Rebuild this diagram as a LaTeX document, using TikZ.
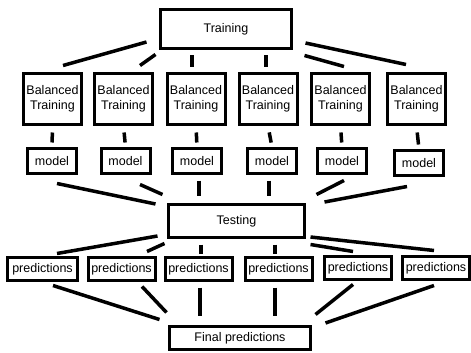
\documentclass[tikz,border=0pt]{standalone}
\usepackage{fontspec}
\setmainfont{Liberation Sans}
\usepackage{tikz}
\usetikzlibrary{calc}
\tikzset{box/.style={draw,line width=3pt,inner sep=0pt,align=center,font=\fontsize{12.5}{15}\selectfont},
	btbox/.style={box,minimum width=58pt,minimum height=51pt},
	modbox/.style={box,minimum width=49pt,minimum height=25pt},
	predbox/.style={box,minimum width=67pt,minimum height=23pt},
	link/.style={line width=3.5pt}}
\begin{document}
\begin{tikzpicture}[x=1pt,y=-1pt]
		\useasboundingbox (0,0) rectangle (471,353);
		\node[box,minimum width=131pt,minimum height=39pt] (train) at (226,29) {Training};
		\node[btbox] (bt1) at (52.5,99) {Balanced\\Training};
		\node[btbox] (bt2) at (123.5,99) {Balanced\\Training};
		\node[btbox] (bt3) at (196,99) {Balanced\\Training};
		\node[btbox] (bt4) at (268,99) {Balanced\\Training};
		\node[btbox] (bt5) at (340.5,99) {Balanced\\Training};
		\node[btbox] (bt6) at (416.5,99) {Balanced\\Training};
		\node[modbox] (mod1) at (52,161) {model};
		\node[modbox] (mod2) at (125.5,161) {model};
		\node[modbox] (mod3) at (197,161) {model};
		\node[modbox] (mod4) at (272,161) {model};
		\node[modbox] (mod5) at (342,161) {model};
		\node[modbox] (mod6) at (419,163) {model};
		\node[box,minimum width=136pt,minimum height=33pt] (test) at (236.5,221) {Testing};
		\node[predbox,minimum width=70pt] (pred1) at (42.5,269) {predictions};
		\node[predbox] (pred2) at (121.5,269) {predictions};
		\node[predbox] (pred3) at (198.5,269) {predictions};
		\node[predbox] (pred4) at (278.5,269) {predictions};
		\node[predbox] (pred5) at (358,268) {predictions};
		\node[predbox] (pred6) at (436,268) {predictions};
		\node[box,minimum width=141pt,minimum height=23pt] (final) at (240,338) {Final predictions};
		% training to balanced training
		\draw[link] ($(train.west)+(-12.5,13)$) -- ($(bt1.north)+(10.5,-6.5)$);
		\draw[link] ($(train.south west)+(-3.5,4.5)$) -- ($(bt2.north)+(16.5,-6.5)$);
		\draw[link] ($(train.south)+(-34,5.5)$) -- ($(bt3.north)+(-4,-4.5)$);
		\draw[link] ($(train.south)+(40,5.5)$) -- ($(bt4.north)+(-2,-4.5)$);
		\draw[link] ($(train.south east)+(11.5,5.5)$) -- ($(bt5.north)+(3.5,-5.5)$);
		\draw[link] ($(train.east)+(12.5,14)$) -- ($(bt6.north)+(-10.5,-7.5)$);
		% balanced training to model
		\foreach \i in {1,...,6}
			\draw[link,shorten <=6.5pt,shorten >=4.5pt] (bt\i.south) -- (mod\i.north);
		% model to testing
		\draw[link] ($(mod1.south)+(5,8.5)$) -- ($(test.west)+(-11.5,-17)$);
		\draw[link] ($(mod2.south)+(14.5,9.5)$) -- ($(test.north west)+(-4.5,-8.5)$);
		\draw[link] ($(mod3.south)+(2,5.5)$) -- ($(test.north)+(-37.5,-7.5)$);
		\draw[link] ($(mod4.south)+(-3,5.5)$) -- ($(test.north)+(32.5,-7.5)$);
		\draw[link] ($(mod5.south)+(2,5.5)$) -- ($(test.north east)+(10.5,-8.5)$);
		\draw[link] ($(mod6.south)+(-12,9.5)$) -- ($(test.east)+(18.5,-19)$);
		% testing to predictions
		\draw[link] ($(test.west)+(-9.5,15)$) -- ($(pred1.north)+(14.5,-2.5)$);
		\draw[link] ($(test.south west)+(-2.5,4.5)$) -- ($(pred2.north)+(25.5,-4.5)$);
		\draw[link] ($(test.south)+(-35.5,5.5)$) -- ($(pred3.north)+(2.5,-2.5)$);
		\draw[link] ($(test.south)+(38.5,5.5)$) -- ($(pred4.north)+(-3.5,-2.5)$);
		\draw[link] ($(test.south east)+(4.5,5.5)$) -- ($(pred5.north)+(-5,-3.5)$);
		\draw[link] ($(test.east)+(4.5,16)$) -- ($(pred6.north)+(-2,-4.5)$);
		% predictions to final
		\draw[link] ($(pred1.south)+(10.5,3.5)$) -- ($(final.north west)+(-8.5,-5.5)$);
		\draw[link] ($(pred2.south)+(20.5,4.5)$) -- ($(final.north west)+(-1.5,-12.5)$);
		\draw[link] ($(pred3.south)+(1.5,5.5)$) -- ($(final.north)+(-40,-9.5)$);
		\draw[link] ($(pred4.south)+(-3.5,5.5)$) -- ($(final.north)+(35,-9.5)$);
		\draw[link] ($(pred5.south)+(-5,3.5)$) -- ($(final.north east)+(3.5,-10.5)$);
		\draw[link] ($(pred6.south)+(-2,4.5)$) -- ($(final.east)+(13.5,-15)$);
	\end{tikzpicture}
\end{document}
